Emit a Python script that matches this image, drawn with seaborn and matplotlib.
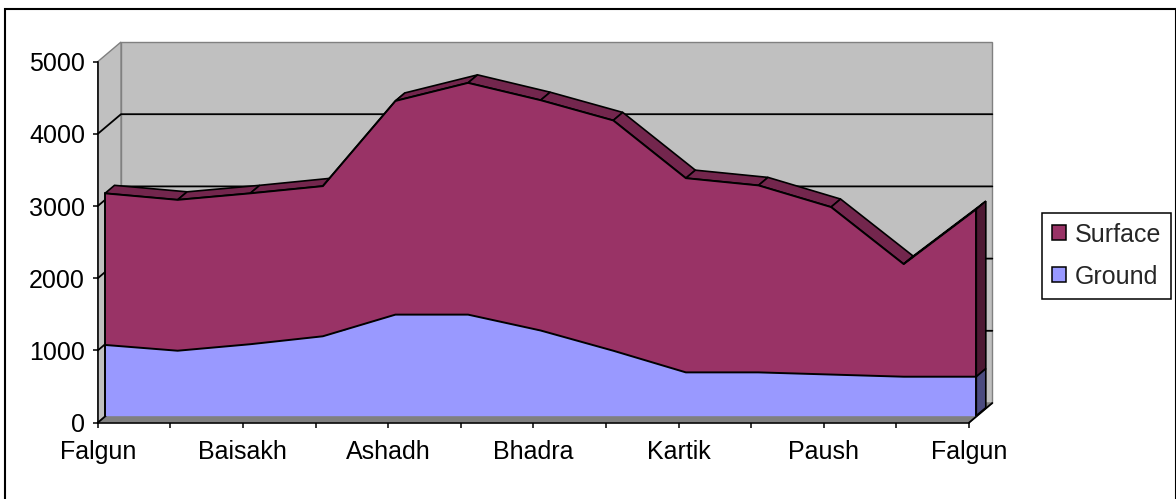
import numpy as np
import matplotlib
matplotlib.use("Agg")
import matplotlib.pyplot as plt
import matplotlib.transforms as mtransforms
from matplotlib.patches import Polygon, Patch, Rectangle
import seaborn as sns

# Nepali months, Falgun to Falgun
months = ["Falgun", "Chaitra", "Baisakh", "Jestha", "Ashadh", "Shrawan", "Bhadra",
          "Ashwin", "Kartik", "Mangsir", "Paush", "Magh", "Falgun"]
ground = [980, 900, 990, 1100, 1400, 1400, 1180, 900, 600, 600, 570, 540, 540]
surface = [2100, 2090, 2090, 2080, 2960, 3210, 3190, 3190, 2690, 2590, 2320, 1560, 2320]
y_ticks = [0, 1000, 2000, 3000, 4000, 5000]

SURFACE_C = "#993366"
GROUND_C = "#9999ff"

sns.set_style("white")
plt.rcParams["font.family"] = ["Liberation Sans", "DejaVu Sans"]

W, H = 1176, 499
fig = plt.figure(figsize=(W / 100, H / 100), dpi=100)
# front plane of the axes, in pixels
x0, x1, y0, y1 = 97.7, 969, 422.7, 61.7
ax = fig.add_axes([x0 / W, 1 - y0 / H, (x1 - x0) / W, (y0 - y1) / H])
ax.patch.set_visible(False)

px_x = (x1 - x0) / 12
px_y = (y0 - y1) / 5000
WX, WY = 23.3 / px_x, 19.7 / px_y   # depth of the walls
RX, RY = 9.5 / px_x, 8.0 / px_y     # thickness of the area
face = mtransforms.offset_copy(ax.transData, fig=fig, x=7.3, y=7.0, units="dots")

xs = np.arange(len(months))
total = np.array(ground) + np.array(surface)
n = len(xs) - 1

# walls and floor
wall = dict(facecolor="#c0c0c0", edgecolor="#808080", lw=1, clip_on=False, zorder=0)
ax.add_patch(Polygon([(WX, WY), (n + WX, WY), (n + WX, 5000 + WY), (WX, 5000 + WY)], **wall))
ax.add_patch(Polygon([(0, 0), (WX, WY), (WX, 5000 + WY), (0, 5000)], **wall))
ax.add_patch(Polygon([(0, 0), (n, 0), (n + WX, WY), (WX, WY)], facecolor="#808080",
                     edgecolor="#808080", lw=1, clip_on=False, zorder=0))
for v in y_ticks[:-1]:
    if v == 0:
        ax.plot([0, WX], [0, WY], color="black", lw=1.3, clip_on=False, zorder=1)
    else:
        ax.plot([0, WX, n + WX], [v, v + WY, v + WY], color="black", lw=1.3,
                clip_on=False, zorder=1)
ax.plot([n, n + WX], [0, WY], color="black", lw=1.3, clip_on=False, zorder=1)

# top ribbon of the surface series
for i in range(n):
    quad = [(xs[i], total[i]), (xs[i + 1], total[i + 1]),
            (xs[i + 1] + RX, total[i + 1] + RY), (xs[i] + RX, total[i] + RY)]
    ax.add_patch(Polygon(quad, transform=face, facecolor="#73264d", edgecolor="black",
                         lw=1.2, clip_on=False, zorder=2))

# right side faces
ax.add_patch(Polygon([(n, ground[-1]), (n, total[-1]), (n + RX, total[-1] + RY),
                      (n + RX, ground[-1] + RY)], transform=face, facecolor="#4d1933",
                     edgecolor="black", lw=1.2, clip_on=False, zorder=2))
ax.add_patch(Polygon([(n, 0), (n, ground[-1]), (n + RX, ground[-1] + RY), (n + RX, RY)],
                     transform=face, facecolor="#4c4c80", edgecolor="black", lw=1.2,
                     clip_on=False, zorder=2))

# front faces
ax.fill_between(xs, ground, total, transform=face, color=SURFACE_C, lw=0,
                clip_on=False, zorder=3)
ax.fill_between(xs, 0, ground, transform=face, color=GROUND_C, lw=0,
                clip_on=False, zorder=3)
sns.lineplot(x=xs, y=total, color="black", lw=1.4, errorbar=None, transform=face,
             clip_on=False, zorder=4, ax=ax)
sns.lineplot(x=xs, y=ground, color="black", lw=1.4, errorbar=None, transform=face,
             clip_on=False, zorder=4, ax=ax)
ax.plot([0, 0], [0, total[0]], color="black", lw=1.4, transform=face, clip_on=False, zorder=4)
ax.plot([n, n], [0, total[-1]], color="black", lw=1.4, transform=face, clip_on=False, zorder=4)

ax.set_xlim(0, n)
ax.set_ylim(0, 5000)
ax.set_xticks(xs)
ax.set_xticklabels([m if i % 2 == 0 else "" for i, m in enumerate(months)])
ax.set_yticks(y_ticks)
ax.tick_params(bottom=True, left=True, direction="out", length=3.6, width=1.1,
               colors="black", labelsize=18)
ax.tick_params(axis="x", pad=9)
ax.tick_params(axis="y", pad=5.5)
sns.despine(ax=ax)
for s in ["left", "bottom"]:
    ax.spines[s].set_color("black")
    ax.spines[s].set_linewidth(1.1)
    ax.spines[s].set_zorder(5)
ax.set_xlabel("")
ax.set_ylabel("")

handles = [Patch(facecolor=SURFACE_C, edgecolor="black", lw=1.1, label="Surface"),
           Patch(facecolor=GROUND_C, edgecolor="black", lw=1.1, label="Ground")]
leg = fig.legend(handles=handles, loc="upper left", bbox_to_anchor=(1041.7 / W, 1 - 212.7 / H),
                 borderaxespad=0, fontsize=18, handlelength=0.56, handleheight=0.56,
                 handletextpad=0.36, labelspacing=0.72, borderpad=0.4, fancybox=False,
                 frameon=True, framealpha=1)
leg.get_frame().set_edgecolor("black")
leg.get_frame().set_linewidth(1.1)

# chart border (cut off at the bottom)
fig.add_artist(Rectangle((4.5 / W, -0.1), (1175.5 - 4.5) / W, 1.1 - 9.5 / H,
                         transform=fig.transFigure, fill=False, edgecolor="black", lw=1.5))

fig.savefig("out.png", dpi=100)
